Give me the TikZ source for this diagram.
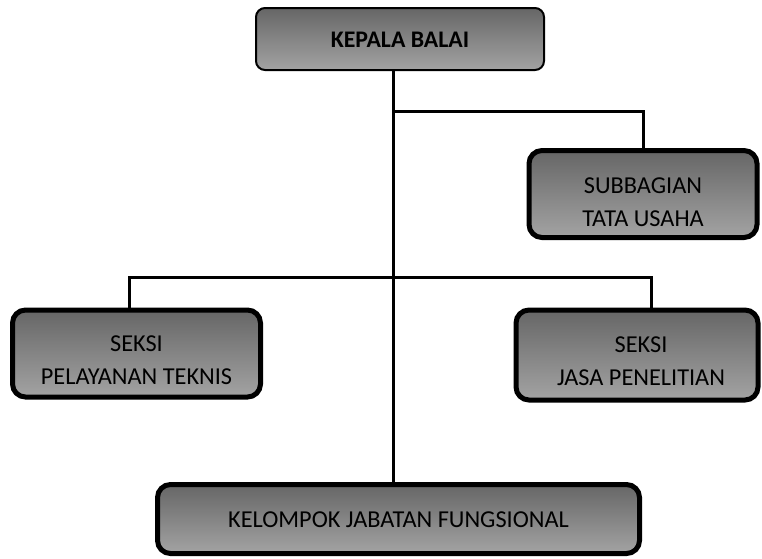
\documentclass[tikz,border=0pt]{standalone}
\usepackage{fontspec}
\setmainfont{Carlito}
\usepackage{tikz}
\usetikzlibrary{positioning, calc}

\begin{document}
\begin{tikzpicture}[x=1pt, y=-1pt]
    \tikzset{
        unit box/.style={
                draw=black, line width=5pt, rounded corners=13pt,
                top color=black!60, bottom color=black!36,
                inner sep=0pt
            },
        head box/.style={
                unit box, line width=2pt, rounded corners=9pt
            },
        box text/.style={
                align=center, inner sep=0pt,
                font=\fontsize{24.3}{33}\selectfont
            },
        head text/.style={
                box text, font=\fontsize{23.8}{28}\selectfont\bfseries
            },
        link/.style={line width=3pt}
    }
    \useasboundingbox (0,0) rectangle (762,558);

    % --- Kotak-kotak ---
    \node[head box, minimum width=288pt, minimum height=62pt,
        label={[head text, yshift=-1pt]center:KEPALA BALAI}] (kepala) at (400,39) {};
    \node[unit box, minimum width=228pt, minimum height=87pt,
        label={[box text, yshift=-8pt]center:SUBBAGIAN\\TATA USAHA}] (subbag) at (643,194) {};
    \node[unit box, minimum width=248pt, minimum height=87pt,
        label={[box text, yshift=-7pt]center:SEKSI\\PELAYANAN TEKNIS}] (pelayanan) at (136.5,353.5) {};
    \node[unit box, minimum width=242pt, minimum height=90pt,
        label={[box text, yshift=-6pt, xshift=4pt]center:SEKSI\\JASA PENELITIAN}] (jasa) at (637,355) {};
    \node[unit box, minimum width=482pt, minimum height=69pt,
        label={[box text, yshift=-1pt]center:KELOMPOK JABATAN FUNGSIONAL}] (kelompok) at (398.5,519) {};

    % --- Garis ---
    \coordinate (j1) at (393,111);
    \coordinate (dl) at (129,277);
    \coordinate (dr) at (651,277);
    \draw[link] (kepala.south -| j1) -- (kelompok.north -| j1);
    \draw[link] (j1) -| (subbag.north);
    \draw[link] (pelayanan.north -| dl) -- (dl) -- (dr) -- (jasa.north -| dr);
\end{tikzpicture}
\end{document}
